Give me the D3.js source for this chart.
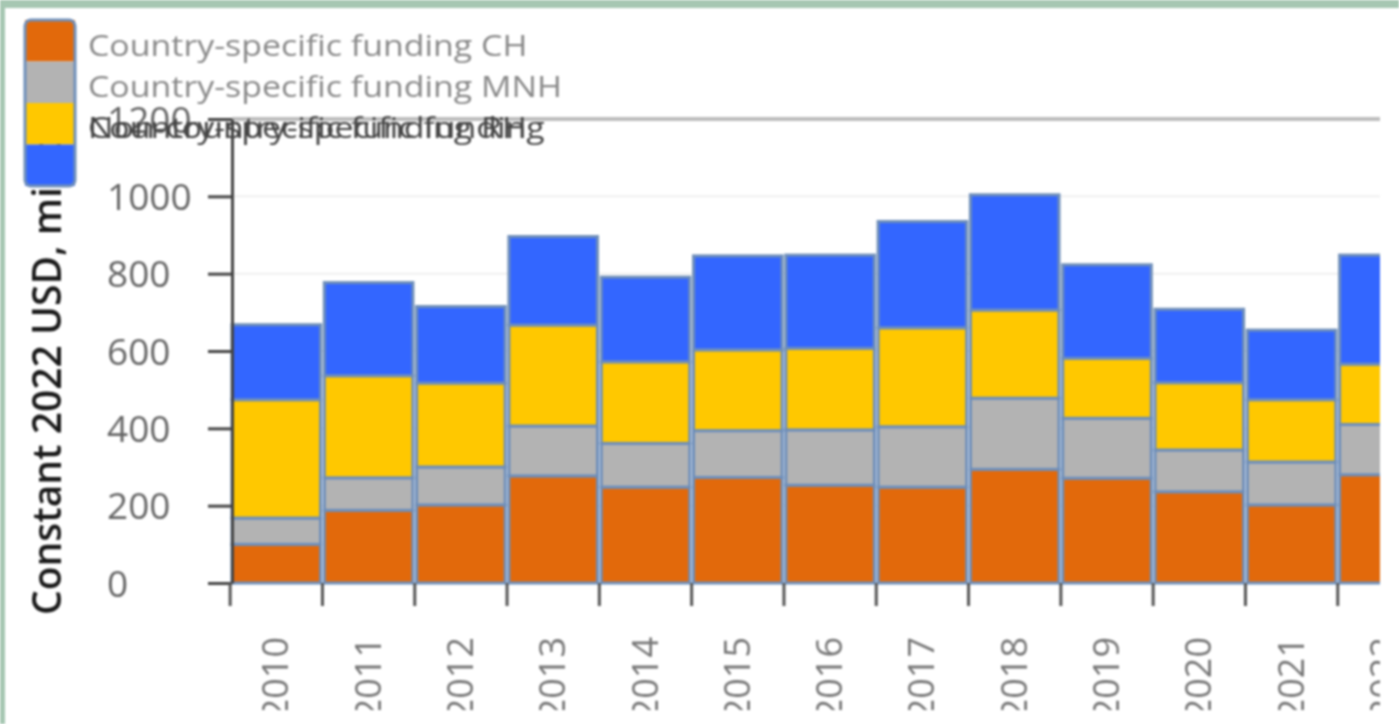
<!DOCTYPE html>
<html>
<head>
<meta charset="utf-8">
<script src="https://cdn.jsdelivr.net/npm/d3@7"></script>
<style>
	body { margin: 0; background: #fff; overflow: hidden; }
	svg { display: block; filter: blur(1px); }
</style>
</head>
<body>
<svg width="1399" height="724"></svg>
<script>
var years = ["2010","2011","2012","2013","2014","2015","2016","2017","2018","2019","2020","2021","2022"];
var fundingCH  = [100, 188, 202, 277, 248, 273, 253, 248, 294, 271, 236, 202, 280];
var fundingMNH = [68, 84, 98, 129, 113, 121, 143, 156, 184, 155, 108, 111, 130];
var fundingRH  = [306, 264, 217, 261, 211, 209, 211, 256, 228, 155, 174, 161, 156];
var fundingOther = [194, 241, 198, 229, 219, 243, 241, 275, 298, 242, 190, 180, 282];
var seriesNames = ["Country-specific funding CH", "Country-specific funding MNH", "Country-specific funding RH", "Non-country-specific funding"];
var seriesColors = ["#e2690b", "#b3b3b3", "#ffc800", "#3366ff"];
var yTicks = [0, 200, 400, 600, 800, 1000, 1200];

var svg = d3.select("svg");

// green frame left + top
svg.append("rect").attr("x", 0).attr("y", 0).attr("width", 1399).attr("height", 8).style("fill", "#a6c7b2");
svg.append("rect").attr("x", 0).attr("y", 0).attr("width", 5).attr("height", 724).style("fill", "#a6c7b2");

svg.append("clipPath").attr("id", "clip")
	.append("rect").attr("x", 5).attr("y", 8).attr("width", 1375).attr("height", 702);

var g = svg.append("g").attr("clip-path", "url(#clip)");

var x = d3.scaleBand()
	.domain(years)
	.range([232, 232 + 92.3 * years.length])
	.paddingInner(0.04)
	.paddingOuter(0.02)
	.align(0);

var y = d3.scaleLinear()
	.domain([0, 1200])
	.range([583, 119]);

var table = years.map(function(d, i){
	return {year: d, ch: fundingCH[i], mnh: fundingMNH[i], rh: fundingRH[i], other: fundingOther[i]};
});
var stack = d3.stack().keys(["ch", "mnh", "rh", "other"])(table);

// grid
g.selectAll("line.grid")
	.data(yTicks.slice(1))
	.enter()
	.append("line")
	.attr("class", "grid")
	.attr("x1", 232)
	.attr("x2", 1380)
	.attr("y1", (d) => y(d))
	.attr("y2", (d) => y(d))
	.style("stroke", (d) => d == 1200 ? "#bdbdbd" : "#f0f0f0")
	.style("stroke-width", (d) => d == 1200 ? 4 : 2);

// y title
g.append("text")
	.attr("transform", "translate(61,615) rotate(-90)")
	.text("Constant 2022 USD, millions")
	.style("font-family", "Open Sans")
	.style("font-size", "39px")
	.style("font-weight", "600")
	.style("fill", "#1a1a1a");

// bars
g.selectAll("g.layer")
	.data(stack)
	.enter()
	.append("g")
	.attr("class", "layer")
	.style("fill", (d, i) => seriesColors[i])
	.selectAll("rect")
	.data((d) => d)
	.enter()
	.append("rect")
	.attr("x", (d) => x(d.data.year))
	.attr("width", x.bandwidth())
	.attr("y", (d) => y(d[1]))
	.attr("height", (d) => y(d[0]) - y(d[1]))
	.style("stroke", "#6f8fba")
	.style("stroke-width", 3);

// y axis
var yAxis = g.append("g")
	.attr("transform", "translate(232,0)")
	.call(d3.axisLeft(y).tickValues(yTicks).tickFormat(d3.format("d")).tickSize(24).tickSizeOuter(0));
yAxis.select(".domain").style("stroke", "#444").style("stroke-width", 3);
yAxis.selectAll(".tick line").style("stroke", "#444").style("stroke-width", 3);
yAxis.selectAll(".tick text")
	.attr("x", -125)
	.attr("dy", "0.36em")
	.style("text-anchor", "start")
	.style("font-family", "Open Sans")
	.style("font-size", "37px")
	.style("fill", "#666");

// x axis ticks at band edges
g.selectAll("line.xtick")
	.data(years)
	.enter()
	.append("line")
	.attr("class", "xtick")
	.attr("x1", (d) => x(d) - x.step() * 0.02)
	.attr("x2", (d) => x(d) - x.step() * 0.02)
	.attr("y1", 583)
	.attr("y2", 606)
	.style("stroke", "#555")
	.style("stroke-width", 3);

g.selectAll("text.xlab")
	.data(years)
	.enter()
	.append("text")
	.attr("class", "xlab")
	.attr("transform", (d) => "translate(" + (x(d) + x.bandwidth() / 2 + 12) + ",637) rotate(-90)")
	.text((d) => d)
	.style("text-anchor", "end")
	.style("font-family", "Open Sans")
	.style("font-size", "36px")
	.style("fill", "#777");

// legend
var legend = g.append("g");
legend.selectAll("rect.sw")
	.data(seriesColors)
	.enter()
	.append("rect")
	.attr("class", "sw")
	.attr("x", 25)
	.attr("y", (d, i) => 20 + i * 41.5)
	.attr("width", 50)
	.attr("height", 41.5)
	.style("fill", (d) => d);
legend.append("rect")
	.attr("x", 25)
	.attr("y", 20)
	.attr("width", 50)
	.attr("height", 166)
	.attr("rx", 6)
	.style("fill", "none")
	.style("stroke", "#6f8fba")
	.style("stroke-width", 3);
legend.selectAll("text")
	.data(seriesNames)
	.enter()
	.append("text")
	.attr("transform", (d, i) => "translate(88," + (45 + Math.min(i, 2) * 41) + ") scale(1.13,1)")
	.attr("dy", "0.35em")
	.text((d) => d)
	.style("font-family", "Open Sans")
	.style("font-size", "30px")
	.style("fill", (d, i) => i < 2 ? "#888" : "#444");
</script>
</body>
</html>
